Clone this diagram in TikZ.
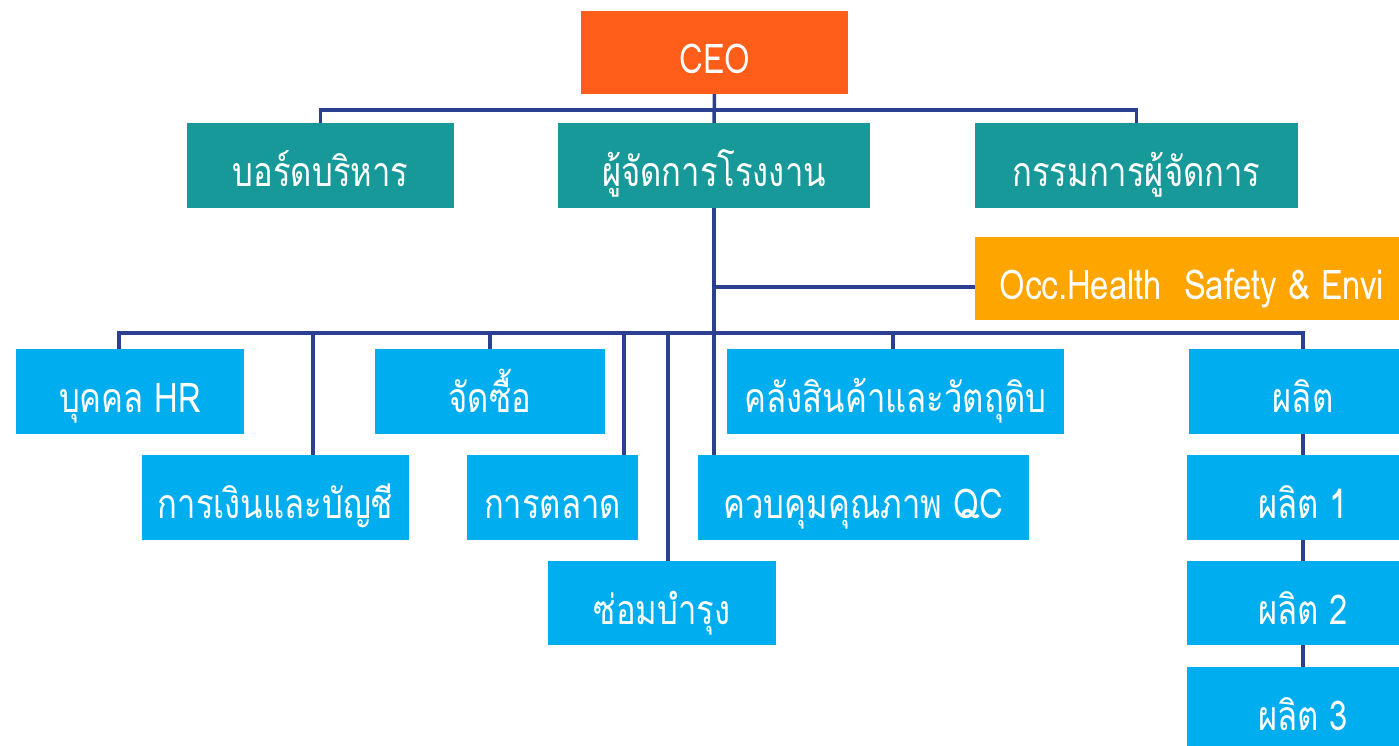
\documentclass[tikz,border=0pt]{standalone}
\usepackage{fontspec}
\newfontfamily\thaifont[Script=Thai,FakeStretch=0.8]{Loma}
\definecolor{ceoorange}{RGB}{255,94,26}
\definecolor{boxteal}{RGB}{22,153,152}
\definecolor{boxblue}{RGB}{0,174,239}
\definecolor{boxamber}{RGB}{255,165,0}
\definecolor{linknavy}{RGB}{44,64,145}
\tikzset{box/.style={fill=#1,text=white,inner sep=0pt,minimum height=85pt,
  text height=46pt,text depth=4pt,
  font=\thaifont\fontsize{41}{41}\selectfont},
  link/.style={draw=linknavy,line width=3.5pt}}

\begin{document}
\begin{tikzpicture}[x=1pt,y=-1pt]
\useasboundingbox (0,0) rectangle (1399,745);
\node[box=ceoorange,minimum width=267pt,minimum height=83pt] (C) at (714.5,52.5) {CEO};
\node[box=boxteal,minimum width=267pt] (B) at (320.5,165.5) {บอร์ดบริหาร};
\node[box=boxteal,minimum width=312pt] (M) at (714,165.5) {ผู้จัดการโรงงาน};
\node[box=boxteal,minimum width=323pt] (D) at (1136.5,165.5) {กรรมการผู้จัดการ};
\node[box=boxamber,minimum width=434pt,minimum height=83pt] (S) at (1192,278.5)
  {Occ.Health\ \ Safety \& Envi};
\node[box=boxblue,minimum width=228pt] (HR) at (130,391.5) {บุคคล HR};
\node[box=boxblue,minimum width=230pt] (P) at (490,391.5) {จัดซื้อ};
\node[box=boxblue,minimum width=337pt] (W) at (895.5,391.5) {คลังสินค้าและวัตถุดิบ};
\node[box=boxblue,minimum width=228pt] (F0) at (1303,391.5) {ผลิต};
\node[box=boxblue,minimum width=267pt] (A) at (275.5,497.5) {การเงินและบัญชี};
\node[box=boxblue,minimum width=171pt] (K) at (552.5,497.5) {การตลาด};
\node[box=boxblue,minimum width=331pt] (Q) at (863.5,497.5) {ควบคุมคุณภาพ QC};
\node[box=boxblue,minimum width=228pt,minimum height=84pt] (R) at (662,603) {ซ่อมบำรุง};
\node[box=boxblue,minimum width=232pt] (F1) at (1303,497.5) {ผลิต 1};
\node[box=boxblue,minimum width=232pt,minimum height=84pt] (F2) at (1303,603) {ผลิต 2};
\node[box=boxblue,minimum width=232pt] (F3) at (1303,709.5) {ผลิต 3};
\coordinate (T) at (714,110);
\coordinate (L) at (714,333);
\coordinate (E) at (714,287);
\draw[link] (C) -- (M);
\draw[link] (B.north) -- (B.north |- T) -- (D.north |- T) -- (D.north);
\draw[link] (M) -- (Q.north -| M);
\draw[link] (E) -- (S.west |- E);
\coordinate (HRx) at (119,333);
\coordinate (Ax) at (313,333);
\coordinate (Kx) at (624,333);
\coordinate (Rx) at (668,333);
\coordinate (Wx) at (893,333);
\draw[link] (HRx |- HR.north) -- (HRx) -- (L -| F0.north) -- (F0.north);
\draw[link] (Ax) -- (Ax |- A.north);
\draw[link] (L -| P.north) -- (P.north);
\draw[link] (Kx) -- (Kx |- K.north);
\draw[link] (Rx) -- (Rx |- R.north);
\draw[link] (Wx) -- (Wx |- W.north);
\draw[link] (F0) -- (F1);
\draw[link] (F1) -- (F2);
\draw[link] (F2) -- (F3);
\end{tikzpicture}
\end{document}
